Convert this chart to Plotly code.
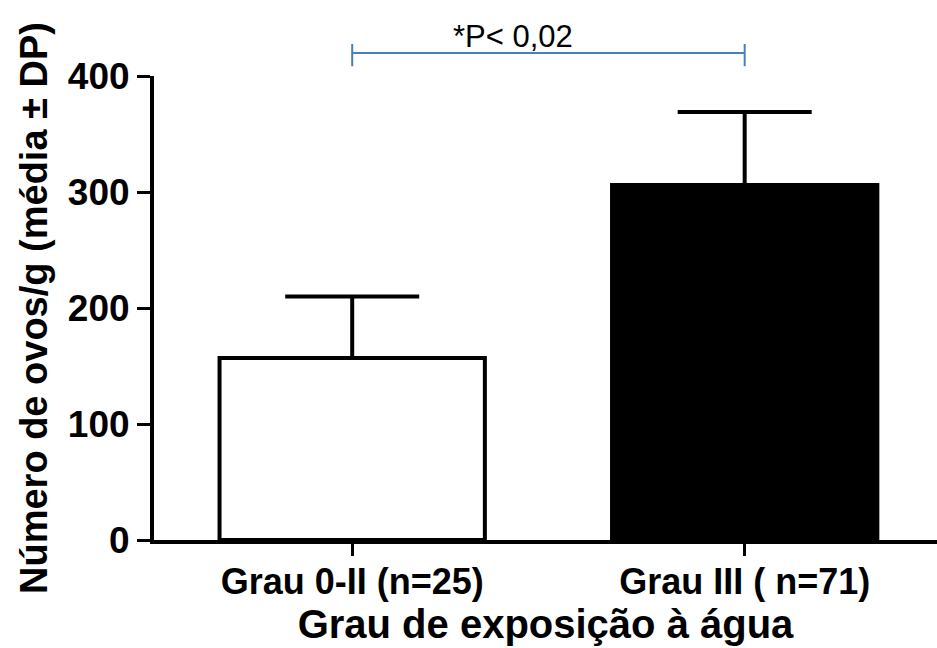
import plotly.graph_objects as go

categories = ["Grau 0-II (n=25)", "Grau III ( n=71)"]
means = [157, 306]
sds = [53, 63]
fill_colors = ["white", "black"]
y_ticks = [0, 100, 200, 300, 400]
p_label = "*P< 0,02"
x_title = "Grau de exposição à água"
y_title = "Número de ovos/g (média ± DP)"

FONT = "Arial, Liberation Sans, sans-serif"
x_range = [-0.505, 1.49]

fig = go.Figure()
fig.add_trace(go.Bar(
    x=[0, 1], y=means,
    width=0.676,
    marker=dict(color=fill_colors, line=dict(color="black", width=4)),
    error_y=dict(type="data", symmetric=False, array=sds, arrayminus=[0, 0],
                 color="black", thickness=4, width=67),
    showlegend=False,
))

def to_paper(xv):
    return (xv - x_range[0]) / (x_range[1] - x_range[0])

x0p, x1p = to_paper(0), to_paper(1)
blue = "#4a7ebb"
ybr = 1.0496
fig.add_shape(type="line", xref="paper", yref="paper", x0=x0p, x1=x1p, y0=ybr, y1=ybr,
              line=dict(color=blue, width=2))
for xp in (x0p, x1p):
    fig.add_shape(type="line", xref="paper", yref="paper", x0=xp, x1=xp, y0=1.021, y1=1.069,
                  line=dict(color=blue, width=2))
fig.add_annotation(xref="paper", yref="paper", x=(x0p + x1p) / 2 - 0.045, y=1.0496,
                   yanchor="bottom", xanchor="center", text=p_label, showarrow=False,
                   font=dict(family=FONT, size=31, color="black"), yshift=-3)

fig.update_layout(
    width=937, height=648,
    margin=dict(l=154, r=0, t=76, b=108),
    paper_bgcolor="white", plot_bgcolor="white",
    font=dict(family=FONT, color="black"),
    xaxis=dict(
        range=x_range, tickvals=[0, 1], ticktext=categories,
        showline=True, linecolor="black", linewidth=4,
        ticks="outside", ticklen=12, tickwidth=3, tickcolor="black",
        ticklabelstandoff=-5,
        tickfont=dict(family=FONT, size=36, color="black", weight="bold"),
        showgrid=False, zeroline=False,
        title=dict(text=x_title, font=dict(family=FONT, size=40, color="black", weight="bold"), standoff=6),
    ),
    yaxis=dict(
        range=[0, 400], tickvals=y_ticks,
        showline=True, linecolor="black", linewidth=4,
        ticks="outside", ticklen=13, tickwidth=3, tickcolor="black",
        tickfont=dict(family=FONT, size=37, color="black", weight="bold"),
        showgrid=False, zeroline=False,
        title=dict(text=y_title, font=dict(family=FONT, size=38, color="black", weight="bold"), standoff=10),
    ),
)

fig.write_html("out.html")
